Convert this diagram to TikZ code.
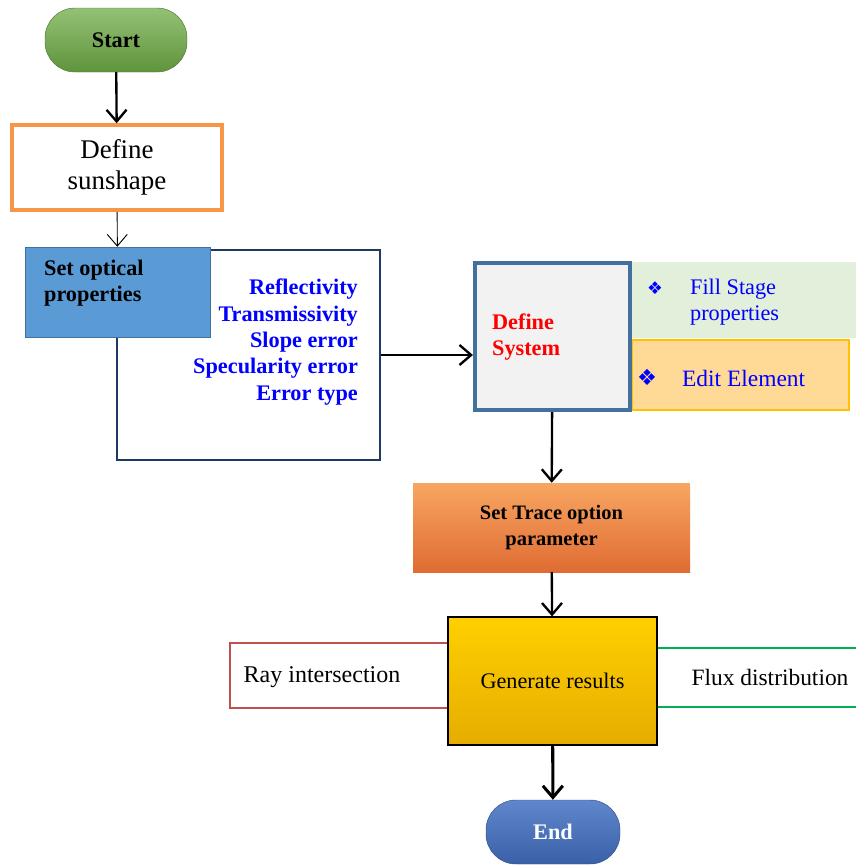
\documentclass[tikz,border=0pt]{standalone}
\usepackage{fontspec}
\setmainfont{Liberation Serif}
\newfontfamily\symfont{DejaVu Sans}
\usepackage[svgnames]{xcolor}
\usepackage{tikz}
\usetikzlibrary{positioning,arrows.meta}
\definecolor{startgreen}{HTML}{70AD47}
\definecolor{sunorange}{HTML}{F79646}
\definecolor{optblue}{HTML}{5B9BD5}
\definecolor{navyline}{HTML}{1F3864}
\definecolor{sysline}{HTML}{41719C}
\definecolor{stagegreen}{HTML}{E2EFDA}
\definecolor{elemfill}{HTML}{FFD996}
\definecolor{elemline}{HTML}{FFC000}
\definecolor{rayred}{HTML}{C0504D}
\definecolor{fluxgreen}{HTML}{00B050}
\definecolor{endblue}{HTML}{4472C4}
\newcommand{\pxl}{0.3mm}

\begin{document}
\begin{tikzpicture}[x=0.3mm, y=-0.3mm,
>={Straight Barb[length=3.5mm,width=6mm]},
big/.style={line width=2pt},
boxnode/.style={rectangle, inner sep=0pt},
pill/.style={rectangle, rounded corners=9mm, minimum width={134*\pxl}, minimum height={64*\pxl}, font=\fontsize{19}{22.5}\selectfont\bfseries}]
\tikzstyle{every node}=[font=\fontsize{19}{22.5}\selectfont]
\useasboundingbox (0,0) rectangle (856,865);

\node[pill, top color=startgreen!75!white, bottom color=startgreen!85!black, draw=startgreen!70!black, minimum width={142*\pxl}] (1) at (116,40) {Start};
\node[boxnode, draw=sunorange, line width=3pt, fill=white, minimum width={210*\pxl}, minimum height={85*\pxl}, align=center, font=\fontsize{23}{26}\selectfont] (2) at (117,167.5) {Define\\sunshape};
\node[boxnode, draw=navyline, line width=2.2pt, fill=white, minimum width={263*\pxl}, minimum height={210*\pxl}] (3) at (248.5,355) {};
\node[boxnode, fill=optblue, draw=sysline, minimum width={185*\pxl}, minimum height={90*\pxl}] (4) at (117.5,292) {};
\node[anchor=west, align=left, font=\fontsize{19}{22.5}\selectfont\bfseries] (4t) at (40,283) {Set optical\\properties};
\node[anchor=east, align=right, text=blue, font=\fontsize{19}{22.5}\selectfont\bfseries] (3t) at (362,342) {Reflectivity\\Transmissivity\\Slope error\\Specularity error\\Error type};

\node[boxnode, fill=stagegreen, minimum width={224*\pxl}, minimum height={76*\pxl}] (6) at (744,300) {};
\node[boxnode, fill=elemfill, draw=elemline, line width=1pt, minimum width={217*\pxl}, minimum height={70*\pxl}] (7) at (740.5,375) {};
\node[boxnode, fill=black!5, draw=sysline, line width=3.5pt, minimum width={155*\pxl}, minimum height={147*\pxl}] (5) at (552.5,336.5) {};
\node[anchor=west, align=left, text=red, font=\fontsize{19}{22.5}\selectfont\bfseries] (5t) at (488,337) {Define\\System};
\node[text=blue, font=\symfont\fontsize{15}{15}\selectfont] (6s) at (655,288) {❖};
\node[anchor=west, align=left, text=blue] (6t) at (686,302) {Fill Stage\\properties};
\node[text=blue, font=\symfont\fontsize{19}{19}\selectfont] (7s) at (647,377) {❖};
\node[anchor=west, text=blue, font=\fontsize{20}{22.5}\selectfont] (7t) at (678,378) {Edit Element};

\node[boxnode, top color=sunorange!85!white, bottom color=sunorange!80!red!90!black, minimum width={277*\pxl}, minimum height={89*\pxl}, align=center, font=\fontsize{17.5}{22.5}\selectfont\bfseries] (8) at (551.5,527.5) {Set Trace option\\parameter};

\node[boxnode, draw=rayred, line width=1.2pt, minimum width={240*\pxl}, minimum height={65*\pxl}] (10) at (350,675.5) {};
\node[boxnode, draw=fluxgreen, line width=1.2pt, minimum width={250*\pxl}, minimum height={59*\pxl}] (11) at (765,677.5) {};
\node[font=\fontsize{20.5}{22.5}\selectfont] (10t) at (322,677) {Ray intersection};
\node[font=\fontsize{20}{22.5}\selectfont] (11t) at (770,677) {Flux distribution};
\node[boxnode, top color=elemline!75!yellow, bottom color=elemline!90!black, draw=black, line width=1pt, minimum width={209*\pxl}, minimum height={128*\pxl}] (9) at (552.5,681) {Generate results};

\node[pill, top color=endblue!85!white, bottom color=endblue!85!black, draw=endblue!70!black, text=white] (12) at (553,832) {End};

\draw[->, big] (1) -- (2);
\draw[->, line width=0.8pt] (2) -- (4);
\draw[->, big] (3.east) -- (3.east -| 5.west);
\draw[->, big] (5) -- (8);
\draw[->, big] (8) -- (9);
\draw[->, line width=2.6pt] (9) -- (12);
\end{tikzpicture}
\end{document}
